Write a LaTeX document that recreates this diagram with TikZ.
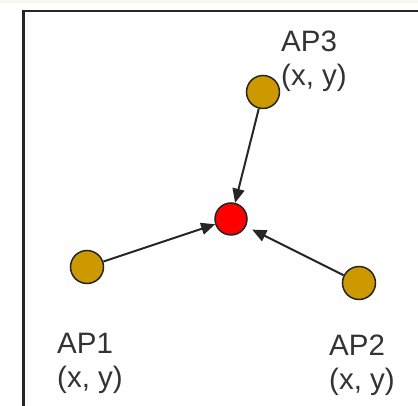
\documentclass[tikz,border=0pt]{standalone}
\usepackage{fontspec}
\setmainfont{Liberation Sans}
\usetikzlibrary{arrows.meta}
\definecolor{gold}{RGB}{204,153,0}
\definecolor{ink}{RGB}{38,38,38}
\definecolor{txt}{RGB}{51,51,51}
\definecolor{strip}{RGB}{247,247,240}
\begin{document}
\begin{tikzpicture}[x=1pt,y=1pt,
  ap/.style={circle,draw=ink,line width=1.5pt,fill=gold,minimum size=33pt,inner sep=0pt},
  target/.style={circle,draw=ink,line width=1.5pt,fill=red,minimum size=32pt,inner sep=0pt},
  arr/.style={draw=ink,line width=2pt,-{Triangle[length=14pt,width=12pt]}},
  lbl/.style={anchor=base west,inner sep=0pt,align=left,text=txt,font=\fontsize{29.5}{34}\selectfont}]
\useasboundingbox (0,0) rectangle (418,406);
\fill[white] (0,0) rectangle (418,406);
\fill[strip] (0,403) rectangle (418,406);
\draw[ink,line width=2.5pt] (23.5,-5) -- (23.5,395) -- (425,395);
\node[target] (tgt) at (231,187) {};
\node[ap] (ap1) at (87,139) {};
\node[ap] (ap2) at (359,123) {};
\node[ap] (ap3) at (263,314) {};
\draw[arr] (ap1) -- (tgt);
\draw[arr,shorten >=7pt] (ap2) -- (tgt);
\draw[arr] (ap3) -- (tgt);
\node[lbl] (l1) at (57,18) {AP1\\(x, y)};
\node[lbl] (l2) at (329,16) {AP2\\(x, y)};
\node[lbl] (l3) at (281,320) {AP3\\(x, y)};
\end{tikzpicture}
\end{document}
